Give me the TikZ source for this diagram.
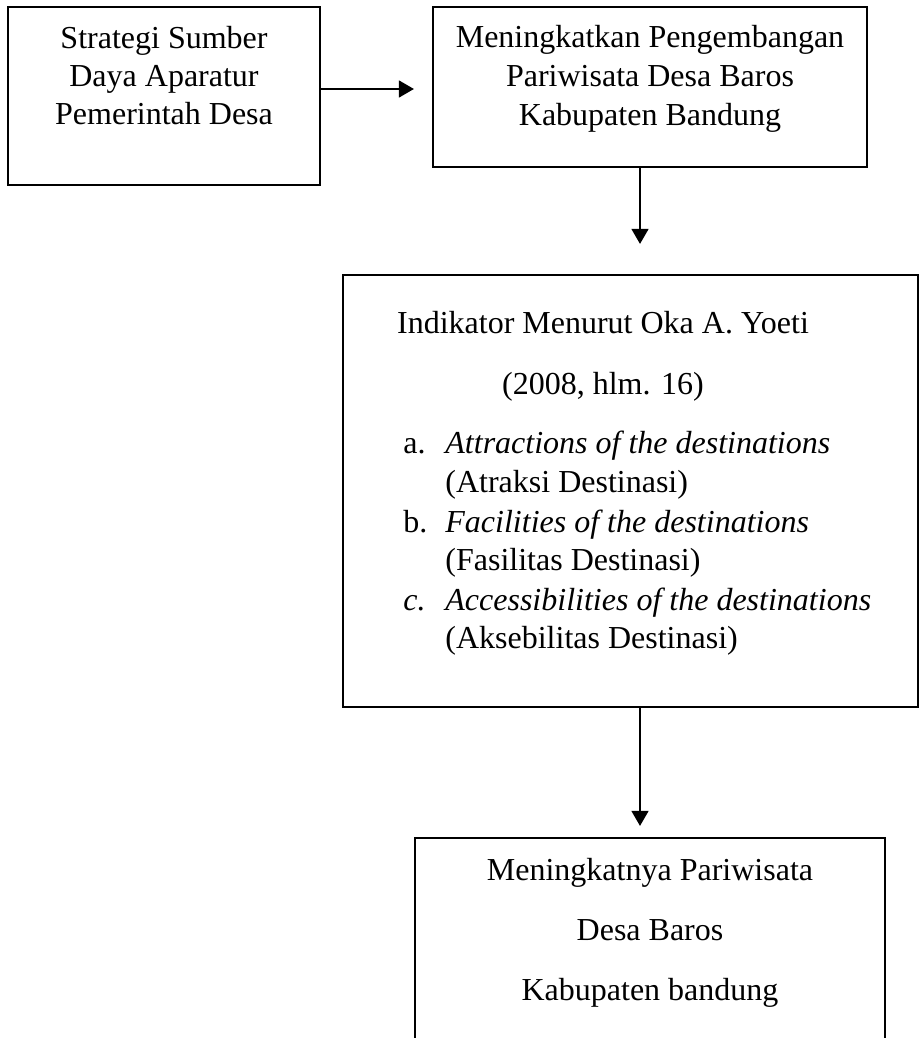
\documentclass[tikz,border=0pt]{standalone}
\usepackage{fontspec}
\setmainfont{Liberation Serif}
\usetikzlibrary{arrows.meta}
\begin{document}
\begin{tikzpicture}[x=0.5pt,y=-0.5pt,
  box/.style={draw,line width=1.1pt,inner sep=0pt,rectangle},
  txt/.style={inner sep=0pt,anchor=base,font=\fontsize{16}{18.75}\selectfont},
  ltxt/.style={txt,anchor=base west},
  arr/.style={line width=0.7pt,-{Triangle[length=7.5pt,width=8.5pt]}}]
\useasboundingbox (0,0) rectangle (922,1038);
\fill[white] (0,0) rectangle (922,1038);
% boxes
\node[box,minimum width=156pt,minimum height=89pt] (b1) at (164,96) {};
\node[box,minimum width=217pt,minimum height=80pt] (b2) at (650,87) {};
\node[box,minimum width=287.5pt,minimum height=216pt] (b3) at (630.5,491) {};
\node[box,minimum width=235pt,minimum height=111pt] (b4) at (650,949) {};
% box 1 text
\node[txt] (t11) at (164,49) {Strategi Sumber};
\node[txt] (t12) at (164,87) {Daya Aparatur};
\node[txt] (t13) at (164,125) {Pemerintah Desa};
% box 2 text
\node[txt] (t21) at (650,48) {Meningkatkan Pengembangan};
\node[txt] (t22) at (650,87) {Pariwisata Desa Baros};
\node[txt] (t23) at (650,126) {Kabupaten Bandung};
% box 3 text
\node[txt] (t31) at (603,333) {Indikator Menurut Oka A. Yoeti};
\node[txt] (t32) at (603,394) {(2008, hlm. 16)};
\node[ltxt] (la) at (403,453) {a.};
\node[ltxt] (ia) at (445,453) {\itshape Attractions of the destinations};
\node[ltxt] (ja) at (445,492) {(Atraksi Destinasi)};
\node[ltxt] (lb) at (403,532) {b.};
\node[ltxt] (ib) at (445,532) {\itshape Facilities of the destinations};
\node[ltxt] (jb) at (445,570) {(Fasilitas Destinasi)};
\node[ltxt] (lc) at (403,610) {\itshape c.};
\node[ltxt] (ic) at (445,610) {\itshape Accessibilities of the destinations};
\node[ltxt] (jc) at (445,648) {(Aksebilitas Destinasi)};
% box 4 text
\node[txt] (t41) at (650,880) {Meningkatnya Pariwisata};
\node[txt] (t42) at (650,940) {Desa Baros};
\node[txt] (t43) at (650,1000) {Kabupaten bandung};
% connectors
\coordinate (ay) at (0,89);
\coordinate (ax) at (640,0);
\draw[arr,shorten >=9pt] (b1.east |- ay) -- (b2.west |- ay);
\draw[arr,shorten >=15pt] (b2.south -| ax) -- (b3.north -| ax);
\draw[arr,shorten >=5.5pt] (b3.south -| ax) -- (b4.north -| ax);
\end{tikzpicture}
\end{document}
